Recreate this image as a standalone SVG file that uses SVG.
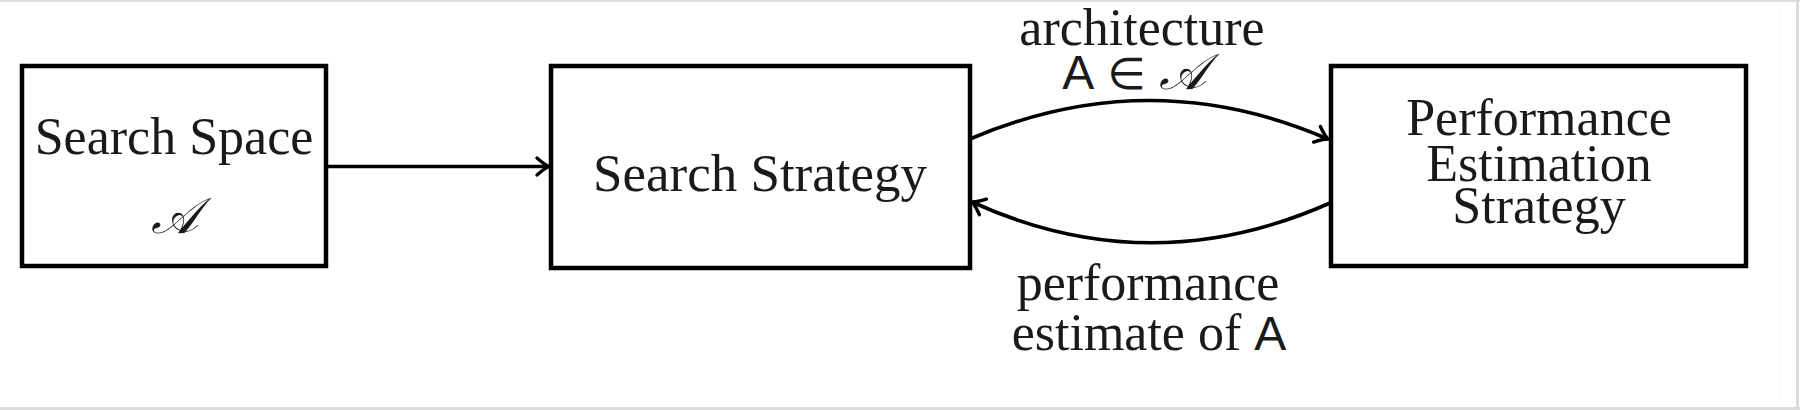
<svg xmlns="http://www.w3.org/2000/svg" width="1800" height="410" viewBox="0 0 1800 410">
  <style>
    .box { fill: #ffffff; stroke: #000000; stroke-width: 4.5; }
    .lbl { font-family: "Liberation Serif", "DejaVu Serif", serif; font-size: 52px; fill: #1a1a1a; text-anchor: middle; }
    .sf { font-family: "Liberation Sans", "DejaVu Sans", sans-serif; font-size: 48px; }
    .cal { font-family: "DejaVu Serif", "DejaVu Sans", serif; font-style: italic; font-size: 50px; }
    .sym { font-family: "DejaVu Sans", sans-serif; font-size: 44px; }
    .edge { fill: none; stroke: #000000; stroke-width: 3.6; }
  </style>
  <defs>
    <marker id="arr" markerUnits="userSpaceOnUse" viewBox="-14 -10 16 20" refX="0" refY="0" markerWidth="16" markerHeight="20" orient="auto" overflow="visible">
      <path d="M -12 -8.5 Q -4 -1.5 0 0 Q -4 1.5 -12 8.5" fill="none" stroke="#000000" stroke-width="3.4" stroke-linecap="round" stroke-linejoin="round"/>
    </marker>
  </defs>
  <rect width="1800" height="410" fill="#ffffff"/>
  <g id="frame" fill="none" stroke="#dcdcdc">
    <line x1="0" y1="1" x2="1800" y2="1" stroke-width="2"/>
    <line x1="1797.5" y1="0" x2="1797.5" y2="410" stroke-width="3"/>
    <line x1="0" y1="408.5" x2="1800" y2="408.5" stroke-width="3"/>
    <line x1="1780.5" y1="8" x2="1780.5" y2="400" stroke="#f6f6f6" stroke-width="1"/>
  </g>

  <g id="connectors">
    <line class="edge" x1="326" y1="166.5" x2="549" y2="166.5" marker-end="url(#arr)"/>
    <path class="edge" d="M 970 139 Q 1150 62 1328 139" marker-end="url(#arr)"/>
    <path class="edge" d="M 1330 203 Q 1150 283 972 202" marker-end="url(#arr)"/>
    <text class="lbl" x="1142" y="45">architecture</text>
    <text class="lbl" x="1134" y="89"><tspan class="sf">A</tspan> <tspan class="sym">∈</tspan> <tspan class="cal">𝒜</tspan></text>
    <text class="lbl" x="1148" y="300">performance</text>
    <text class="lbl" x="1149" y="350">estimate of <tspan class="sf">A</tspan></text>
  </g>

  <g id="search-space">
    <rect class="box" x="22" y="66" width="304" height="200"/>
    <text class="lbl" x="174" y="154">Search Space</text>
    <text class="lbl" x="174" y="233"><tspan class="cal">𝒜</tspan></text>
  </g>

  <g id="search-strategy">
    <rect class="box" x="551" y="66" width="419" height="202"/>
    <text class="lbl" x="760" y="191" style="font-size:53px">Search Strategy</text>
  </g>

  <g id="performance-estimation">
    <rect class="box" x="1331" y="66" width="415" height="200"/>
    <text class="lbl" x="1539" y="135">Performance</text>
    <text class="lbl" x="1539" y="181">Estimation</text>
    <text class="lbl" x="1539" y="223">Strategy</text>
  </g>
</svg>
